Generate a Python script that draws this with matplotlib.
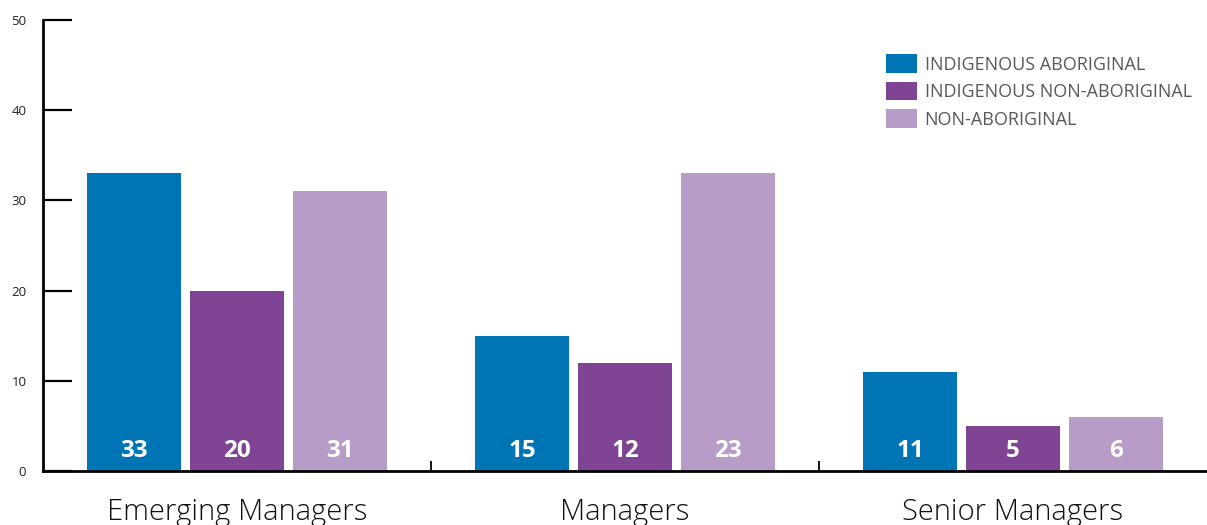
import numpy as np
import matplotlib
matplotlib.use("Agg")
import matplotlib.pyplot as plt
from matplotlib.patches import Patch

plt.rcParams['font.family'] = ["Open Sans", "DejaVu Sans"]

categories = ["Emerging Managers", "Managers", "Senior Managers"]
series_names = ["INDIGENOUS ABORIGINAL", "INDIGENOUS NON-ABORIGINAL", "NON-ABORIGINAL"]
# bar heights as drawn in the picture
aboriginal = [33, 15, 11]
non_aboriginal_indigenous = [20, 12, 5]
non_aboriginal = [31, 33, 6]
# labels as printed on the bars
label_aboriginal = ["33", "15", "11"]
label_non_aboriginal_indigenous = ["20", "12", "5"]
label_non_aboriginal = ["31", "23", "6"]

colors = ["#0075B6", "#7F4594", "#B89CC8"]

fig = plt.figure(figsize=(12.07, 5.25), dpi=100)
ax = fig.add_axes([43 / 1207, 1 - 471 / 525, 1 - 43 / 1207, 451 / 525])

x = np.arange(len(categories))
width = 94 / 388
step = 103 / 388

series = [aboriginal, non_aboriginal_indigenous, non_aboriginal]
labels = [label_aboriginal, label_non_aboriginal_indigenous, label_non_aboriginal]
for i, (vals, labs, clr) in enumerate(zip(series, labels, colors)):
    pos = x + (i - 1) * step
    ax.bar(pos, vals, width=width, color=clr, zorder=2)
    for px, lab in zip(pos, labs):
        ax.text(px, 2.2, lab, ha="center", va="center", color="white",
                fontsize=17.5, fontweight="bold", zorder=3)

ax.set_xlim(-0.5, 2.5)
ax.set_ylim(0, 50)
ax.set_yticks([0, 10, 20, 30, 40, 50])
ax.tick_params(axis="y", direction="in", length=21, width=1.6, labelsize=9.5,
               pad=12, colors="black", labelcolor="#222222")
ax.set_xticks(x)
ax.set_xticklabels(categories, fontsize=21, color="#111111", fontweight="light")
ax.tick_params(axis="x", which="major", length=0, pad=19)
ax.set_xticks([0.5, 1.5], minor=True)
ax.tick_params(axis="x", which="minor", direction="in", length=7, width=1.3)

for s in ["top", "right"]:
    ax.spines[s].set_visible(False)
ax.spines["left"].set_linewidth(2)
ax.spines["bottom"].set_linewidth(2)
ax.spines["left"].set_zorder(4)

handles = [Patch(facecolor=c, edgecolor="none") for c in colors]
leg = ax.legend(handles, series_names, loc="upper left", bbox_to_anchor=(0.710, 0.96),
                frameon=False, fontsize=13, labelcolor="#595959",
                handlelength=1.75, handleheight=1.2, handletextpad=0.4, labelspacing=0.45)

fig.savefig("out.png", dpi=100)
